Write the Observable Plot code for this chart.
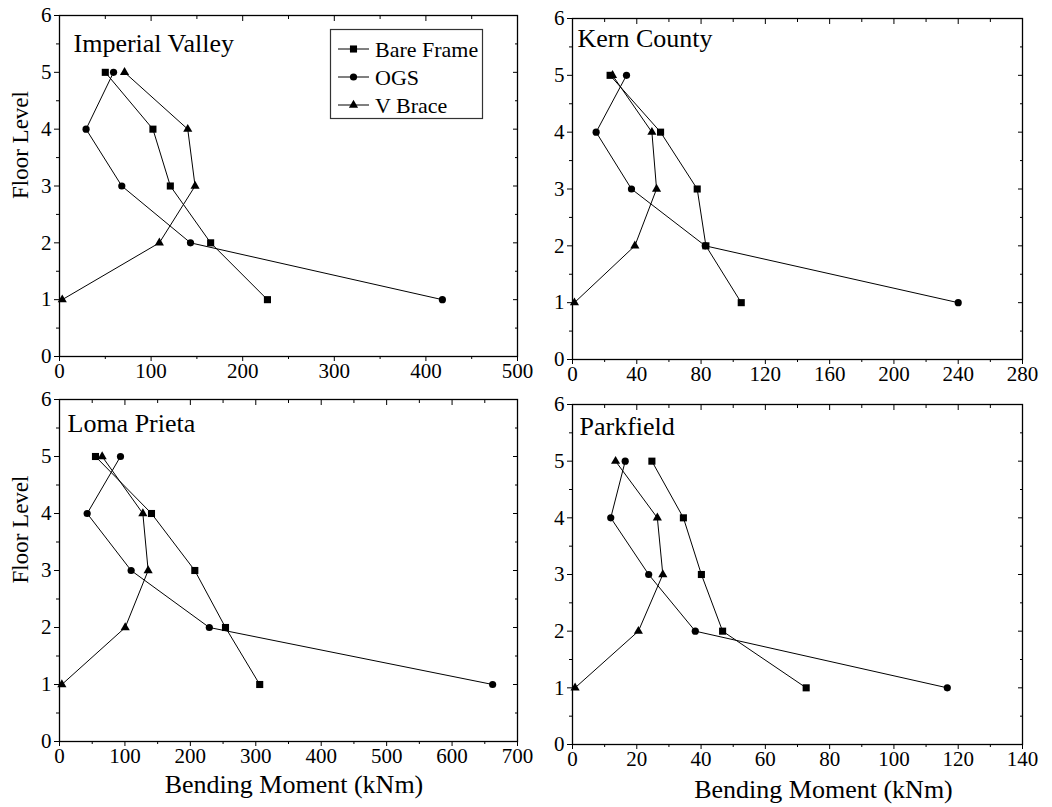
<!DOCTYPE html>
<html><head><meta charset="utf-8">
<script src="https://cdn.jsdelivr.net/npm/d3@7"></script>
<script src="https://cdn.jsdelivr.net/npm/@observablehq/plot@0.6"></script>
<style>
body{margin:0;background:#fff;}
#wrap{position:relative;width:1052px;height:807px;font-family:"Liberation Serif","Times New Roman",serif;}
#wrap svg{position:absolute;overflow:visible;max-width:none;}
#wrap svg text{font-family:"Liberation Serif","Times New Roman",serif !important;font-variant:normal !important;}
</style></head><body><div id="wrap"></div>
<script>
// Floors (order of connection) and series
const floors = [1, 2, 3, 4, 5];
const series = ["Bare Frame", "OGS", "V Brace"];
const symbols = ["square", "circle", "triangle"];

// Imperial Valley (kNm) for floors 1..5
const imperialBare = [227, 165, 121, 102, 50];
const imperialOGS = [418, 143, 68, 29, 59];
const imperialVB = [3, 109, 148, 140, 71];

// Kern County
const kernBare = [105, 83, 77.6, 54.8, 23.4];
const kernOGS = [240, 82.6, 36.7, 14.7, 33.6];
const kernVB = [1.2, 38.8, 52.3, 49.4, 24.9];

// Loma Prieta
const lomaBare = [306, 253.7, 206.8, 140.6, 55];
const lomaOGS = [662, 229, 109.5, 42.3, 93.2];
const lomaVB = [3.6, 100.4, 135.5, 127.4, 65.2];

// Parkfield
const parkBare = [72.7, 46.7, 40.1, 34.5, 24.7];
const parkOGS = [116.6, 38.2, 23.7, 11.9, 16.4];
const parkVB = [0.8, 20.5, 28.1, 26.4, 13.4];

// Tick values
const imperialTicks = [0, 100, 200, 300, 400, 500];
const kernTicks = [0, 40, 80, 120, 160, 200, 240, 280];
const lomaTicks = [0, 100, 200, 300, 400, 500, 600, 700];
const parkTicks = [0, 20, 40, 60, 80, 100, 120, 140];
const yTicks = [0, 1, 2, 3, 4, 5, 6];

const yTitle = "Floor Level";
const xTitle = "Bending Moment (kNm)";

const panels = [
  {title: "Imperial Valley", vals: [imperialBare, imperialOGS, imperialVB], ticks: imperialTicks,
   frame: [59, 15, 517, 356], tdx: 14, tdy: 18.5, yLab: true, xLab: false},
  {title: "Kern County", vals: [kernBare, kernOGS, kernVB], ticks: kernTicks,
   frame: [572, 18, 1022, 359], tdx: 5, tdy: 10.5, yLab: false, xLab: false},
  {title: "Loma Prieta", vals: [lomaBare, lomaOGS, lomaVB], ticks: lomaTicks,
   frame: [59, 399, 517, 741], tdx: 8, tdy: 14, yLab: true, xLab: true, xdx: 5.5, xdy: 43},
  {title: "Parkfield", vals: [parkBare, parkOGS, parkVB], ticks: parkTicks,
   frame: [572, 404, 1022, 744], tdx: 7, tdy: 12.5, yLab: false, xLab: true, xdx: 26, xdy: 45.5}
];

const symR = {"square": 4, "circle": 3.6, "triangle": 3.4};
const wrap = document.getElementById("wrap");
const blank = () => "";

panels.forEach(cfg => {
  const [x0, y0, x1, y1] = cfg.frame;
  const ml = 70, mt = 20, mr = 40, mb = 70;
  const rows = [];
  series.forEach((s, i) => floors.forEach((f, j) => rows.push({series: s, floor: f, moment: cfg.vals[i][j]})));
  const xMax = cfg.ticks[cfg.ticks.length - 1];
  const step = cfg.ticks[1] - cfg.ticks[0];
  const minorX = cfg.ticks.slice(0, -1).map(t => t + step / 2);
  const minorY = yTicks.slice(0, -1).map(t => t + 0.5);
  const marks = [
    Plot.axisX(cfg.ticks, {anchor: "bottom", tickSize: 5, tickPadding: 2, fontSize: 21, label: null, tickFormat: d => String(d)}),
    Plot.axisX(minorX, {anchor: "bottom", tickSize: 3, label: null, tickFormat: blank}),
    Plot.axisX(cfg.ticks, {anchor: "top", tickSize: -5, label: null, tickFormat: blank}),
    Plot.axisX(minorX, {anchor: "top", tickSize: -3, label: null, tickFormat: blank}),
    Plot.axisY(yTicks, {anchor: "left", tickSize: 5, tickPadding: 3, fontSize: 21, label: null, tickFormat: d => String(d)}),
    Plot.axisY(minorY, {anchor: "left", tickSize: 3, label: null, tickFormat: blank}),
    Plot.axisY(yTicks, {anchor: "right", tickSize: -5, label: null, tickFormat: blank}),
    Plot.axisY(minorY, {anchor: "right", tickSize: -3, label: null, tickFormat: blank}),
    Plot.frame({stroke: "#000", strokeWidth: 1.3}),
    Plot.line(rows, {x: "moment", y: "floor", z: "series", stroke: "#000", strokeWidth: 1}),
    ...series.map((s, i) => Plot.dot(rows.filter(d => d.series === s), {
      x: "moment", y: "floor", symbol: () => symbols[i], r: symR[symbols[i]], fill: "#000", stroke: "none"
    })),
    Plot.text([cfg.title], {text: d => d, frameAnchor: "top-left", textAnchor: "start", lineAnchor: "top",
      dx: cfg.tdx, dy: cfg.tdy, fontSize: 26, fill: "#000"})
  ];
  if (cfg.yLab) marks.push(Plot.text([yTitle], {text: d => d, frameAnchor: "left", rotate: -90, dx: -39, dy: 13, fontSize: 23, fill: "#000"}));
  if (cfg.xLab) marks.push(Plot.text([xTitle], {text: d => d, frameAnchor: "bottom", lineAnchor: "middle", dx: cfg.xdx, dy: cfg.xdy, fontSize: 26, fill: "#000"}));
  const svg = Plot.plot({
    width: (x1 - x0) + ml + mr,
    height: (y1 - y0) + mt + mb,
    marginLeft: ml, marginRight: mr, marginTop: mt, marginBottom: mb,
    x: {domain: [0, xMax], label: null},
    y: {domain: [0, 6], label: null},
    symbol: {domain: symbols, range: symbols},
    style: {fontFamily: "'Liberation Serif', serif", background: "transparent", overflow: "visible", color: "#000"},
    marks
  });
  svg.style.left = (x0 - ml) + "px";
  svg.style.top = (y0 - mt) + "px";
  wrap.appendChild(svg);
});

// Legend (Imperial Valley panel)
const leg = d3.create("svg").attr("width", 1052).attr("height", 807)
  .style("left", "0px").style("top", "0px").style("pointer-events", "none");
leg.append("rect").attr("x", 330.5).attr("y", 29.5).attr("width", 152).attr("height", 89)
  .attr("fill", "none").attr("stroke", "#333").attr("stroke-width", 1.2);
const legTypes = [d3.symbolSquare, d3.symbolCircle, d3.symbolTriangle];
series.forEach((s, i) => {
  const cy = 49 + i * 28;
  leg.append("line").attr("x1", 338).attr("x2", 369).attr("y1", cy).attr("y2", cy).attr("stroke", "#000").attr("stroke-width", 1);
  const r = symR[symbols[i]];
  leg.append("path").attr("d", d3.symbol(legTypes[i], Math.PI * r * r)()).attr("transform", `translate(353.5,${cy})`).attr("fill", "#000");
  leg.append("text").attr("x", 375).attr("y", cy).attr("dy", "0.35em").attr("font-size", 22)
    .attr("fill", "#000").text(s);
});
wrap.appendChild(leg.node());
</script></body></html>
